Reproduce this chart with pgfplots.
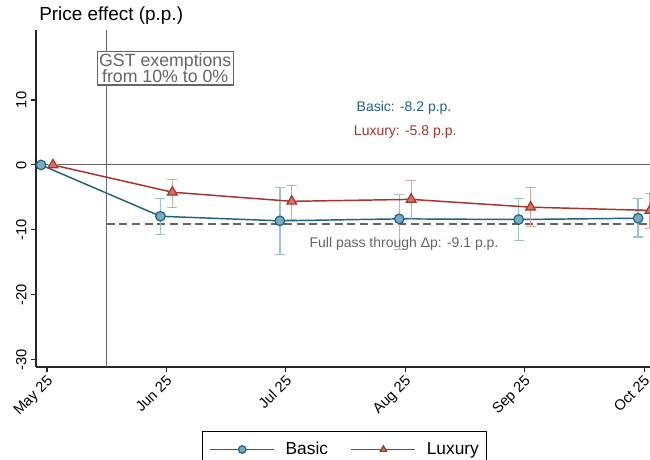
\documentclass[border=0pt]{standalone}
\usepackage{fontspec}
\setmainfont{Liberation Sans}
\usepackage{pgfplots}
\pgfplotsset{compat=1.18}
\definecolor{bline}{HTML}{1F6381}
\definecolor{bfill}{HTML}{7AAAC2}
\definecolor{berr}{HTML}{9DC0D2}
\definecolor{lline}{HTML}{A6342A}
\definecolor{lfill}{HTML}{CF7567}
\definecolor{lerr}{HTML}{DDA49D}
\definecolor{refgray}{HTML}{666666}
\begin{document}
\begin{tikzpicture}
\begin{axis}[
  name=ax,
  scale only axis,
  width=460.5pt, height=252.75pt,
  xmin=-0.092, xmax=5.05,
  ymin=-31.1, ymax=20.77,
  axis lines*=left,
  axis line style={black!85, line width=0.8pt},
  clip=false,
  tick align=outside,
  major tick length=4pt,
  tick style={black!85, line width=0.8pt},
  xtick={0,1,2,3,4,5},
  xticklabels={May 25,Jun 25,Jul 25,Aug 25,Sep 25,Oct 25},
  ytick={-30,-20,-10,0,10},
  /pgf/number format/assume math mode=true,
  ticklabel style={font=\fontsize{11}{13}\selectfont},
  xticklabel style={rotate=45, anchor=north east, inner sep=1.5pt, yshift=1pt},
  yticklabel style={rotate=90, anchor=south, inner sep=3pt},
  legend style={at={(0.503,-0.19)}, anchor=north, legend columns=2,
    draw=black, line width=0.8pt, font=\fontsize{13}{15}\selectfont,
    inner xsep=4pt, inner ysep=6pt,
    /tikz/every even column/.append style={column sep=14pt}},
  legend cell align=left,
  legend image code/.code={\draw[mark repeat=2,mark phase=2,#1,mark size=2.8pt] plot coordinates {(0pt,0pt) (24pt,0pt) (48pt,0pt)}; \path (-1pt,0pt) (54pt,0pt);},
]
% reference lines
\addplot[refgray, line width=0.8pt, forget plot] coordinates {(-0.092,0) (5.05,0)};
\addplot[refgray, line width=0.8pt, forget plot] coordinates {(0.5,-31.1) (0.5,20.77)};
\addplot[refgray, line width=0.9pt, dash pattern=on 6pt off 3.5pt, forget plot] coordinates {(0.5,-9.1) (5.05,-9.1)};

% Basic
\addplot[bline, line width=1.1pt, mark=*, mark size=3.6pt,
  mark options={fill=bfill, draw=bline, line width=0.9pt},
  error bars/.cd, y dir=both, y explicit,
  error bar style={berr, line width=1pt},
  error mark options={rotate=90, mark size=3.8pt, berr, line width=1pt}]
 table[x=x, y=y, y error plus=ep, y error minus=em] {
 x      y     ep   em
 -0.05  0.0   0.0  0.0
 0.95  -7.9   2.7  2.8
 1.95  -8.6   5.1  5.2
 2.95  -8.3   3.7  4.7
 3.95  -8.4   3.2  3.2
 4.95  -8.2   3.0  2.9
 };
\addlegendentry{Basic}

% Luxury
\addplot[lline, line width=1.1pt, mark=triangle*, mark size=4.2pt,
  mark options={fill=lfill, draw=lline, line width=0.9pt},
  error bars/.cd, y dir=both, y explicit,
  error bar style={lerr, line width=1pt},
  error mark options={rotate=90, mark size=3.8pt, lerr, line width=1pt}]
 table[x=x, y=y, y error plus=ep, y error minus=em] {
 x      y     ep   em
 0.05   0.0   0.0  0.0
 1.05  -4.2   2.0  2.3
 2.05  -5.6   2.4  2.8
 3.05  -5.3   2.9  3.1
 4.05  -6.5   3.0  3.0
 5.05  -7.0   2.6  2.8
 };
\addlegendentry{Luxury}

\node[anchor=base west, font=\fontsize{14.2}{16}\selectfont, inner sep=0pt] at (rel axis cs:0,1) [xshift=2.25pt, yshift=6.75pt] {Price effect (p.p.)};
\node[draw=refgray, fill=white, text=refgray, line width=0.8pt, align=center,
  font=\fontsize{13.3}{12.5}\selectfont, inner xsep=1.5pt, inner ysep=1.5pt] at (axis cs:0.99,14.9) {GST exemptions\\from 10\% to 0\%};
\node[text=bline, font=\fontsize{10.5}{12}\selectfont] at (axis cs:2.99,8.77) {Basic: -8.2 p.p.};
\node[text=lline, font=\fontsize{10.5}{12}\selectfont] at (axis cs:3.0,5.0) {Luxury: -5.8 p.p.};
\node[text=refgray, font=\fontsize{10.5}{12}\selectfont] at (axis cs:2.99,-12.15) {Full pass through Δp: -9.1 p.p.};
\end{axis}
\pgfresetboundingbox
\path (ax.south west) ++(-27pt,-69.75pt) rectangle ++(487.5pt,345pt);
\end{tikzpicture}
\end{document}
